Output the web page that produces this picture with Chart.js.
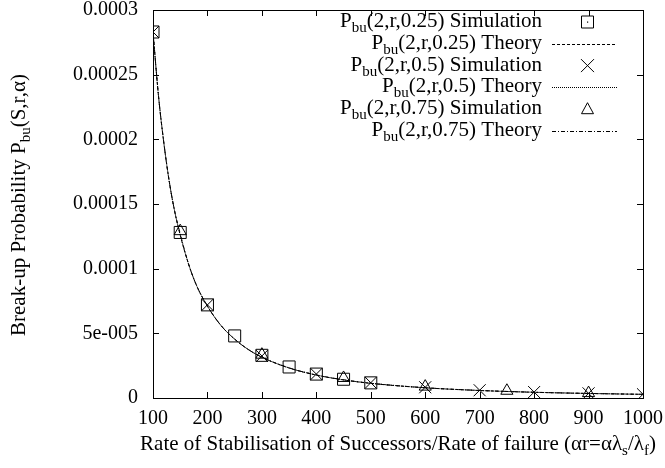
<!DOCTYPE html>
<html>
<head>
<meta charset="utf-8">
<script src="https://cdn.jsdelivr.net/npm/chart.js@4.4.0/dist/chart.umd.min.js"></script>
<style>
html,body{margin:0;padding:0;background:#fff;}
#wrap{width:665px;height:468px;position:relative;}
</style>
</head>
<body>
<div id="wrap"><canvas id="c" width="665" height="468"></canvas></div>
<script>
// ---- data ----
const xTicks = [100, 200, 300, 400, 500, 600, 700, 800, 900, 1000];
const yTickValues = [0, 0.00005, 0.0001, 0.00015, 0.0002, 0.00025, 0.0003];
const yTickLabels = ['0', '5e-005', '0.0001', '0.00015', '0.0002', '0.00025', '0.0003'];

const simX025 = [100, 150, 200, 250, 300, 350, 400, 450, 500];
const sim025  = [2.83e-4, 1.28e-4, 7.2e-5, 4.8e-5, 3.3e-5, 2.4e-5, 1.85e-5, 1.45e-5, 1.17e-5];
const simX05  = [100, 200, 300, 400, 500, 600, 700, 800, 900, 1000];
const sim05   = [2.83e-4, 7.2e-5, 3.25e-5, 1.85e-5, 1.18e-5, 8.3e-6, 6.0e-6, 4.6e-6, 3.6e-6, 2.9e-6];
const simX075 = [150, 300, 450, 600, 750, 900];
const sim075  = [1.29e-4, 3.35e-5, 1.55e-5, 8.8e-6, 5.6e-6, 3.8e-6];

const theoryX   = [100, 110, 120, 130, 140, 150, 165, 180, 200, 225, 250, 275, 300, 350, 400, 450, 500, 600, 700, 800, 900, 1000];
const theory025 = [2.83e-4, 2.34e-4, 1.97e-4, 1.67e-4, 1.44e-4, 1.26e-4, 1.04e-4, 8.7e-5, 7.1e-5, 5.6e-5, 4.55e-5, 3.75e-5, 3.15e-5, 2.32e-5, 1.77e-5, 1.4e-5, 1.13e-5, 7.9e-6, 5.8e-6, 4.4e-6, 3.5e-6, 2.8e-6];
const theory05  = [2.83e-4, 2.34e-4, 1.97e-4, 1.67e-4, 1.44e-4, 1.26e-4, 1.04e-4, 8.7e-5, 7.1e-5, 5.6e-5, 4.55e-5, 3.75e-5, 3.15e-5, 2.32e-5, 1.78e-5, 1.4e-5, 1.14e-5, 7.9e-6, 5.8e-6, 4.45e-6, 3.5e-6, 2.85e-6];
const theory075 = [2.83e-4, 2.34e-4, 1.97e-4, 1.67e-4, 1.44e-4, 1.27e-4, 1.04e-4, 8.7e-5, 7.1e-5, 5.6e-5, 4.55e-5, 3.75e-5, 3.16e-5, 2.33e-5, 1.78e-5, 1.41e-5, 1.14e-5, 7.95e-6, 5.85e-6, 4.45e-6, 3.55e-6, 2.85e-6];

const legendRows = [
  {parts:[['P'],['bu',1],['(2,r,0.25) Simulation']], kind:'rect'},
  {parts:[['P'],['bu',1],['(2,r,0.25) Theory']], kind:'line', dash:[3,2]},
  {parts:[['P'],['bu',1],['(2,r,0.5) Simulation']], kind:'cross'},
  {parts:[['P'],['bu',1],['(2,r,0.5) Theory']], kind:'line', dash:[1,1]},
  {parts:[['P'],['bu',1],['(2,r,0.75) Simulation']], kind:'tri'},
  {parts:[['P'],['bu',1],['(2,r,0.75) Theory']], kind:'line', dash:[4,2,1,2]}
];
const xTitle = [['Rate of Stabilisation of Successors/Rate of failure (αr=αλ'],['s',1],['/λ'],['f',1],[')']];
const yTitle = [['Break-up Probability P'],['bu',1],['(S,r,α)']];

// ---- helpers ----
const FONT = '"Liberation Serif", "Times New Roman", serif';
const TFS = 20;      // tick font
const FS = 21, SFS = 15;  // legend/title font, subscript font
function pts(xs, ys){ return xs.map((x,i)=>({x:x, y:ys[i]})); }
function richWidth(ctx, parts){
  let w=0;
  parts.forEach(p=>{ ctx.font = (p[1]?SFS:FS)+'px '+FONT; w += ctx.measureText(p[0]).width; });
  return w;
}
function drawRich(ctx, parts, x, y, align){
  ctx.textBaseline='alphabetic';
  ctx.textAlign='left';
  const w = richWidth(ctx, parts);
  let cx = align==='right' ? x-w : (align==='center' ? x-w/2 : x);
  parts.forEach(p=>{
    ctx.font = (p[1]?SFS:FS)+'px '+FONT;
    ctx.fillText(p[0], cx, y + (p[1]?5:0));
    cx += ctx.measureText(p[0]).width;
  });
}
function marker(ctx, kind, x, y){
  ctx.beginPath();
  if(kind==='rect'){ ctx.rect(x-6,y-6,12,12); }
  else if(kind==='cross'){ ctx.moveTo(x-6.5,y-6.5); ctx.lineTo(x+6.5,y+6.5); ctx.moveTo(x+6.5,y-6.5); ctx.lineTo(x-6.5,y+6.5); }
  else if(kind==='tri'){ ctx.moveTo(x,y-6.5); ctx.lineTo(x+6,y+4.5); ctx.lineTo(x-6,y+4.5); ctx.closePath(); }
  ctx.stroke();
}

const framePlugin = {
  id:'frame',
  afterDraw(chart){
    const ctx = chart.ctx, a = chart.chartArea;
    const xs = chart.scales.x, ys = chart.scales.y;
    ctx.save();
    ctx.strokeStyle='#000'; ctx.lineWidth=1; ctx.setLineDash([]);
    ctx.strokeRect(Math.round(a.left)+0.5, Math.round(a.top)+0.5, Math.round(a.right-a.left), Math.round(a.bottom-a.top));
    const tl=6;
    ctx.beginPath();
    xTicks.forEach(v=>{
      const px = Math.round(xs.getPixelForValue(v))+0.5;
      ctx.moveTo(px,a.bottom); ctx.lineTo(px,a.bottom-tl);
      ctx.moveTo(px,a.top); ctx.lineTo(px,a.top+tl);
    });
    yTickValues.forEach(v=>{
      const py = Math.round(ys.getPixelForValue(v))+0.5;
      ctx.moveTo(a.left,py); ctx.lineTo(a.left+tl,py);
      ctx.moveTo(a.right,py); ctx.lineTo(a.right-tl,py);
    });
    ctx.stroke();
    // legend
    ctx.fillStyle='#000';
    legendRows.forEach((r,i)=>{
      const base = 27 + i*21.8;
      const cy = base - 5;
      drawRich(ctx, r.parts, 542, base, 'right');
      if(r.kind==='line'){
        ctx.setLineDash(r.dash);
        ctx.beginPath(); ctx.moveTo(552,Math.round(cy)+0.5); ctx.lineTo(617,Math.round(cy)+0.5); ctx.stroke();
        ctx.setLineDash([]);
      } else {
        marker(ctx, r.kind, 587.5, cy);
        if(r.kind==='rect'){ ctx.fillRect(587,cy-0.5,1.2,1.2); }
      }
    });
    // titles
    drawRich(ctx, xTitle, 398, 450, 'center');
    ctx.translate(25, 336);
    ctx.rotate(-Math.PI/2);
    drawRich(ctx, yTitle, 0, 0, 'left');
    ctx.restore();
  }
};

const lineDs = (xs, ys, dash) => ({
  type:'line', data:pts(xs,ys), showLine:true, borderColor:'#000', borderWidth:1,
  borderDash:dash, pointRadius:0, cubicInterpolationMode:'monotone', fill:false, order:2
});
const ptDs = (xs, ys, style, r) => ({
  type:'scatter', data:pts(xs,ys), showLine:false, pointStyle:style, pointRadius:r,
  pointBorderColor:'#000', pointBackgroundColor:'rgba(0,0,0,0)', pointBorderWidth:1, order:1
});

new Chart(document.getElementById('c'), {
  type:'scatter',
  data:{ datasets:[
    lineDs(theoryX, theory025, [3,2]),
    lineDs(theoryX, theory05, [1,1]),
    lineDs(theoryX, theory075, [4,2,1,2]),
    ptDs(simX025, sim025, 'rect', 8.5),
    ptDs(simX05, sim05, 'crossRot', 8.5),
    ptDs(simX075, sim075, 'triangle', 7)
  ]},
  options:{
    responsive:false, animation:false, devicePixelRatio:1,
    layout:{padding:{top:10, right:22, left:0, bottom:0}},
    plugins:{legend:{display:false}, tooltip:{enabled:false}},
    scales:{
      x:{ type:'linear', min:100, max:1000,
          afterBuildTicks(s){ s.ticks = xTicks.map(v=>({value:v})); },
          afterFit(s){ s.height = 70; s.paddingLeft = 0; s.paddingRight = 0; },
          grid:{display:false, drawTicks:false}, border:{display:false},
          ticks:{ color:'#000', padding:9, maxRotation:0, autoSkip:false,
                  font:{family:FONT, size:TFS}, callback:(v)=>String(v) } },
      y:{ type:'linear', min:0, max:0.0003,
          afterBuildTicks(s){ s.ticks = yTickValues.map(v=>({value:v})); },
          afterFit(s){ s.width = 153; s.paddingTop = 0; s.paddingBottom = 0; },
          grid:{display:false, drawTicks:false}, border:{display:false},
          ticks:{ color:'#000', padding:15, autoSkip:false,
                  font:{family:FONT, size:TFS}, callback:(v,i)=>yTickLabels[i] } }
    }
  },
  plugins:[framePlugin]
});
</script>
</body>
</html>
